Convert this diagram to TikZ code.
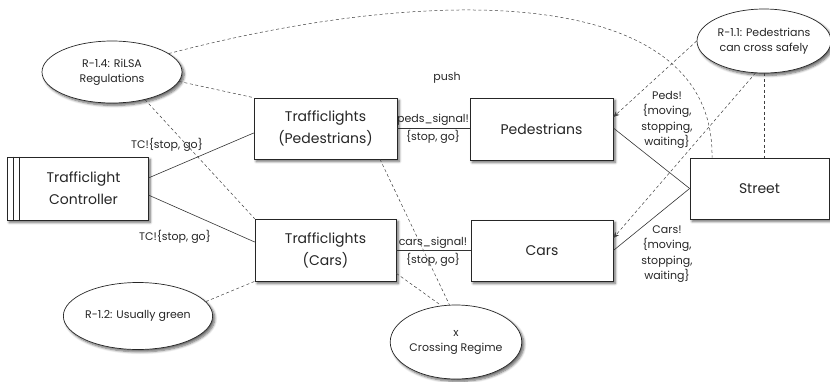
\documentclass[tikz,border=0pt]{standalone}
\usepackage{fontspec}
\setmainfont{Poppins}
\usetikzlibrary{shapes.geometric,arrows.meta,calc,shadows.blur}

\begin{document}
\begin{tikzpicture}[x=1pt,y=-1pt,
  every node/.style={text=black!85, align=center},
  softshadow/.style={blur shadow={shadow xshift=2.2pt,shadow yshift=-2.4pt,shadow blur steps=6,shadow blur radius=2.5pt,shadow opacity=60}},
  boxnode/.style={draw=black!85, fill=white, line width=0.7pt, inner sep=0pt,
    font=\fontsize{14}{22}\selectfont, softshadow},
  reqnode/.style={ellipse, draw=black!85, fill=white, line width=0.7pt, inner sep=0pt,
    font=\fontsize{11}{15}\selectfont, softshadow},
  lbl/.style={font=\fontsize{11}{16}\selectfont, inner sep=0pt},
  link/.style={draw=black!80, line width=0.6pt},
  dep/.style={draw=black!75, line width=0.5pt, dash pattern=on 3pt off 2.5pt},
  deparrow/.style={dep, -{Stealth[length=6pt,width=5pt]}}
]
\useasboundingbox (0,0) rectangle (830,381);

% components
\node[boxnode, minimum width=141pt, minimum height=63pt] (ctl) at (77.5,188.5) {\hspace*{12pt}Trafficlight\\\hspace*{12pt}Controller};
\draw[line width=0.7pt, draw=black!85] ([xshift=6.5pt]ctl.north west) -- ([xshift=6.5pt]ctl.south west)
  ([xshift=13pt]ctl.north west) -- ([xshift=13pt]ctl.south west);
\node[boxnode, minimum width=143pt, minimum height=61pt] (tlp) at (325.5,128.5) {Trafficlights\\(Pedestrians)};
\node[boxnode, minimum width=141pt, minimum height=62pt] (tlc) at (325.5,250) {Trafficlights\\(Cars)};
\node[boxnode, minimum width=143pt, minimum height=62pt] (ped) at (541.5,129) {Pedestrians};
\node[boxnode, minimum width=142pt, minimum height=61pt] (car) at (542,250.5) {Cars};
\node[boxnode, minimum width=139pt, minimum height=61pt] (street) at (759.5,188.5) {Street};

% requirements
\node[reqnode, minimum width=140pt, minimum height=62pt] (r14) at (112,72) {R-1.4: RiLSA\\Regulations};
\node[reqnode, minimum width=134pt, minimum height=64pt] (r11) at (764,41) {R-1.1: Pedestrians\\can cross safely};
\node[reqnode, minimum width=137pt, minimum height=67pt] (r12) at (138,316) {R-1.2: Usually green};
\node[reqnode, minimum width=128pt, minimum height=74pt] (cr) at (456,342) {x\\Crossing Regime};

% shared phenomena
\draw[link] ([yshift=10.5pt]ctl.east) -- ([yshift=-4.5pt]tlp.west);
\draw[link] ([yshift=-6.5pt]ctl.east) -- ([yshift=8pt]tlc.west);
\draw[link] (tlp.east) -- (tlp.east -| ped.west);
\draw[link] (tlc.east) -- (tlc.east -| car.west);
\draw[link] ([yshift=1pt]ped.east) -- (street.west);
\draw[link] (car.east) -- (street.west);

% requirement references
\draw[dep] (r14.-8) -- (tlp.north west);
\draw[dep] (r14.-40) -- (tlc.north west);
\draw[dep] (r12.12) -- (tlc.south west);
\draw[dep] ([xshift=54.5pt]tlp.south) -- (cr.100);
\draw[dep] ([yshift=8pt]tlc.south east) -- (cr.112);
\draw[dep] (r14.18) .. controls (450,-20) and (715,-10) .. ([xshift=-47.5pt]street.north);
\draw[dep] (r11.south) -- (r11.south |- street.north);
\draw[deparrow] (r11.west) -- ([yshift=12pt]ped.east);
\draw[deparrow] (r11.255) -- ([yshift=12.5pt]car.east);

% labels
\node[lbl] (push) at (447,78) {push};
\node[lbl] (tcp) at (167,145) {TC!\{stop, go\}};
\node[lbl] (tcc) at (175,237) {TC!\{stop, go\}};
\node[lbl] (pss) at (433,120) {peds\_signal!};
\node[lbl] (psv) at (433,137) {\{stop, go\}};
\node[lbl] (css) at (433,243) {cars\_signal!};
\node[lbl] (csv) at (433,260) {\{stop, go\}};
\node[lbl, font=\fontsize{11}{15.3}\selectfont] (peds) at (667,120) {Peds!\\\{moving,\\stopping,\\waiting\}};
\node[lbl, font=\fontsize{11}{15.3}\selectfont] (cars) at (667,254) {Cars!\\\{moving,\\stopping,\\waiting\}};
\end{tikzpicture}
\end{document}
